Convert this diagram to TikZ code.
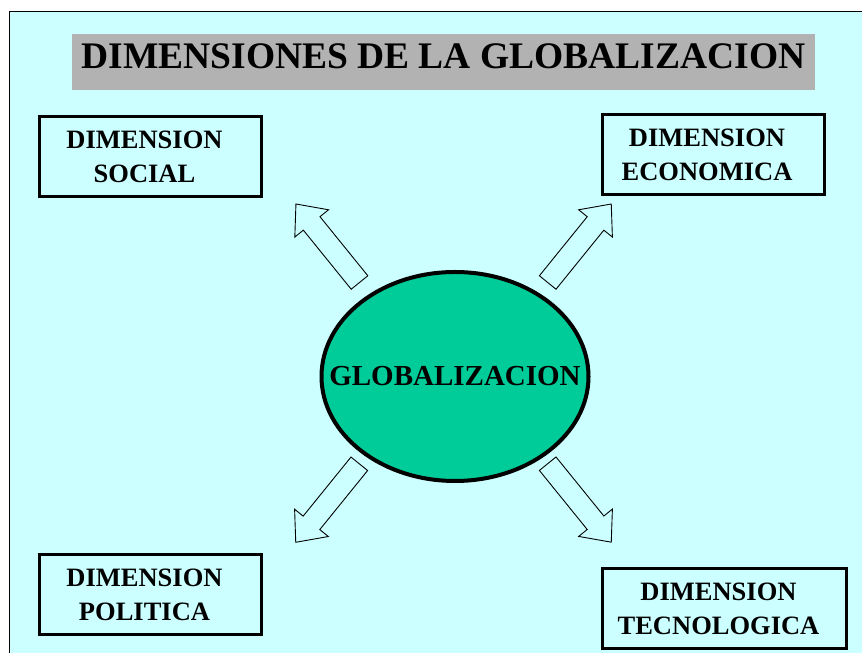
\documentclass[tikz,border=0pt]{standalone}
\usepackage{fontspec}
\setmainfont{Liberation Serif}
\usetikzlibrary{shapes.geometric}

\definecolor{bgcyan}{HTML}{CCFFFF}
\definecolor{titlegray}{HTML}{B2B2B2}
\definecolor{globgreen}{HTML}{00CC99}

\tikzset{
  dimbox/.style={draw, line width=3pt, minimum width=222pt, minimum height=80pt, inner sep=0pt},
  dimtext/.style={align=center, inner sep=0pt, xshift=-6pt,
    font=\fontsize{26.5}{34}\selectfont\bfseries},
  blockarrow/.style={draw, line width=0.9pt, line join=miter},
}

\begin{document}
\begin{tikzpicture}[x=1pt, y=1pt]%{{{

    \useasboundingbox (0,0) rectangle (862,653);
    \clip (0,0) rectangle (862,653);
    \fill [white] (0,0) rectangle (862,653);
    \draw [line width=1pt, fill=bgcyan] (9,641) rectangle (880,-20);

    \node [fill=titlegray, minimum width=743pt, minimum height=56pt, inner sep=0pt,
      text height=24pt, text depth=10pt, font=\fontsize{37.5}{40}\selectfont\bfseries]
      (title) at (443.5,591) {DIMENSIONES DE LA GLOBALIZACION};

    \node [dimbox, label={[dimtext]center:DIMENSION\\SOCIAL}] (social) at (150.5,496.5) {};
    \node [dimbox, label={[dimtext]center:DIMENSION\\ECONOMICA}] (economica) at (713,498.5) {};
    \node [dimbox, label={[dimtext]center:DIMENSION\\POLITICA}] (politica) at (150.5,58.5) {};
    \node [dimbox, minimum width=244pt, label={[dimtext]center:DIMENSION\\TECNOLOGICA}]
      (tecnologica) at (724.5,44) {};

    \node [ellipse, draw, line width=4pt, fill=globgreen, minimum width=267pt,
      minimum height=209pt, inner sep=0pt] (glob) at (455,276.5) {};
    \node [font=\fontsize{29}{30}\selectfont\bfseries, inner sep=0pt] (globtext) at (glob) {GLOBALIZACION};

    % block arrows out of the ellipse
    \draw [blockarrow, shift={(359.5,370.5)}, rotate=129]
      (0,-10.7) -- (76,-10.7) -- (76,-21.7) -- (101,0) -- (76,21.7) -- (76,10.7) -- (0,10.7) -- cycle;
    \draw [blockarrow, shift={(547.7,370.5)}, rotate=51]
      (0,-10.7) -- (76,-10.7) -- (76,-21.7) -- (101,0) -- (76,21.7) -- (76,10.7) -- (0,10.7) -- cycle;
    \draw [blockarrow, shift={(359.3,189.2)}, rotate=231]
      (0,-10.7) -- (76,-10.7) -- (76,-21.7) -- (101,0) -- (76,21.7) -- (76,10.7) -- (0,10.7) -- cycle;
    \draw [blockarrow, shift={(547.7,189.3)}, rotate=309]
      (0,-10.7) -- (76,-10.7) -- (76,-21.7) -- (101,0) -- (76,21.7) -- (76,10.7) -- (0,10.7) -- cycle;

  \end{tikzpicture}
\end{document}
